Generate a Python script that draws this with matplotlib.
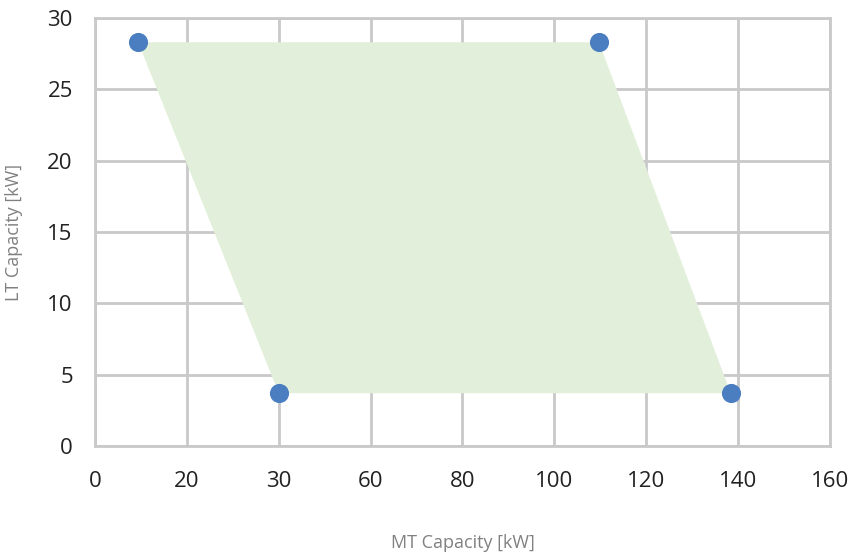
import numpy as np
import matplotlib.pyplot as plt
from matplotlib.patches import Polygon

plt.rcParams['font.family'] = ['Open Sans', 'DejaVu Sans']

# corner points of the operating envelope
mt_capacity = [9.4, 109.7, 138.4, 40.0]
lt_capacity = [28.3, 28.3, 3.7, 3.7]

x_ticks = [0, 20, 40, 60, 80, 100, 120, 140, 160]
x_tick_labels = ['0', '20', '30', '60', '80', '100', '120', '140', '160']
y_ticks = [0, 5, 10, 15, 20, 25, 30]

grid_col = '#c9c9c9'

fig = plt.figure(figsize=(8.53, 5.52), dpi=100)
ax = fig.add_axes([95/853, 1 - 446/552, 735/853, 428/552])

poly = Polygon(np.column_stack([mt_capacity, lt_capacity]), closed=True,
               facecolor='#e2efda', edgecolor='none', zorder=1)
ax.add_patch(poly)
ax.scatter(mt_capacity, lt_capacity, s=190, color='#4a7ec0', zorder=3, linewidths=0)

ax.set_xlim(0, 160)
ax.set_ylim(0, 30)
ax.set_xticks(x_ticks)
ax.set_xticklabels(x_tick_labels)
ax.set_yticks(y_ticks)
ax.grid(True, color=grid_col, linewidth=2, zorder=0)
ax.set_axisbelow(True)
for s in ax.spines.values():
    s.set_color(grid_col)
    s.set_linewidth(2)
ax.tick_params(length=0, labelsize=16, colors='#222222')
ax.tick_params(axis='x', pad=18)
ax.tick_params(axis='y', pad=16)

ax.set_xlabel('MT Capacity [kW]', fontsize=13, color='#808080')
ax.set_ylabel('LT Capacity [kW]', fontsize=13, color='#808080')
ax.xaxis.set_label_coords(0.5, -0.205)
ax.yaxis.set_label_coords(-0.098, 0.5)

fig.savefig('out.png', dpi=100)
